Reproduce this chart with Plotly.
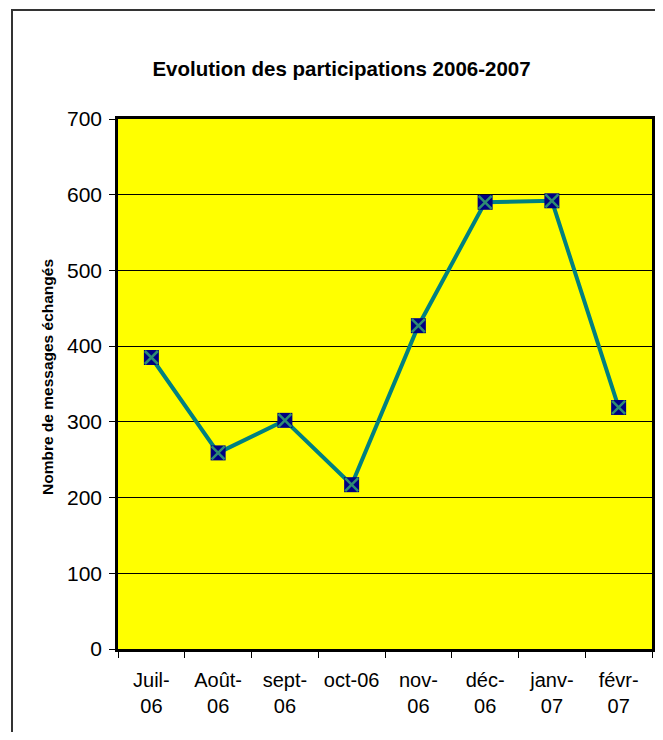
import plotly.graph_objects as go

categories = ["Juil-06", "Août-06", "sept-06", "oct-06", "nov-06", "déc-06", "janv-07", "févr-07"]
tick_labels = ["Juil-<br>06", "Août-<br>06", "sept-<br>06", "oct-06", "nov-<br>06", "déc-<br>06", "janv-<br>07", "févr-<br>07"]
messages = [385, 259, 302, 217, 427, 590, 592, 319]
y_ticks = [0, 100, 200, 300, 400, 500, 600, 700]

# The page body has an 8px margin; work in reference pixels and shift.
OFF = 8
W, H = 663 - 2 * OFF, 740 - 2 * OFF
PL, PR, PT, PB = 118, 652, 119, 649  # plot area in reference pixels
L, R, T, B = PL - OFF, W - (PR - OFF), PT - OFF, H - (PB - OFF)
pw, ph = W - L - R, H - T - B

def px_x(px):
    return (px - OFF - L) / pw

def px_y(py):
    return (H - B - (py - OFF)) / ph

font = "Liberation Sans, Arial, sans-serif"

fig = go.Figure()
fig.add_trace(go.Scatter(
    x=categories, y=messages, mode="lines+markers",
    line=dict(color="#008080", width=4),
    marker=dict(symbol="square", size=15, color="#000080", line=dict(width=0)),
    showlegend=False, hoverinfo="x+y",
))
fig.add_trace(go.Scatter(
    x=categories, y=messages, mode="markers",
    marker=dict(symbol="x-thin-open", size=13, color="#2E8B72", line=dict(width=2.5, color="#2E8B72")),
    showlegend=False, hoverinfo="skip",
))

fig.update_layout(
    width=W, height=H,
    margin=dict(l=L, r=R, t=T, b=B, autoexpand=False),
    paper_bgcolor="white",
    plot_bgcolor="#FFFF00",
    font=dict(family=font, color="black"),
    title=dict(text="<b>Evolution des participations 2006-2007</b>",
               font=dict(size=20.5, family=font, color="black"),
               x=px_x(341.5), xref="paper", xanchor="center",
               y=1 - (69 - OFF) / H, yref="container", yanchor="middle"),
    xaxis=dict(
        type="category", tickmode="array", tickvals=categories, ticktext=tick_labels,
        tickson="boundaries", ticks="outside", ticklen=6, tickcolor="black", tickwidth=1,
        tickfont=dict(size=20, family=font, color="black"), tickangle=0,
        showgrid=False, showline=True, linecolor="black", linewidth=2.5, mirror=True,
        range=[-0.5, 7.5], ticklabelstandoff=11,
    ),
    yaxis=dict(
        range=[0, 700], tickmode="array", tickvals=y_ticks,
        ticks="outside", ticklen=6, tickcolor="black", tickwidth=1,
        tickfont=dict(size=21, family=font, color="black"),
        showgrid=True, gridcolor="black", gridwidth=1,
        showline=True, linecolor="black", linewidth=2.5, mirror=True,
        zeroline=False, ticklabelstandoff=3,
    ),
)

fig.add_annotation(
    text="<b>Nombre de messages échangés</b>", textangle=-90,
    x=px_x(47), y=px_y(377), xref="paper", yref="paper",
    xanchor="center", yanchor="middle", showarrow=False,
    font=dict(size=15.5, family=font, color="black"),
)

fig.add_shape(type="rect", xref="paper", yref="paper",
              x0=px_x(12), x1=px_x(700), y0=px_y(800), y1=px_y(10),
              line=dict(color="#333333", width=2), fillcolor="rgba(0,0,0,0)", layer="below")

fig.write_html("out.html")
